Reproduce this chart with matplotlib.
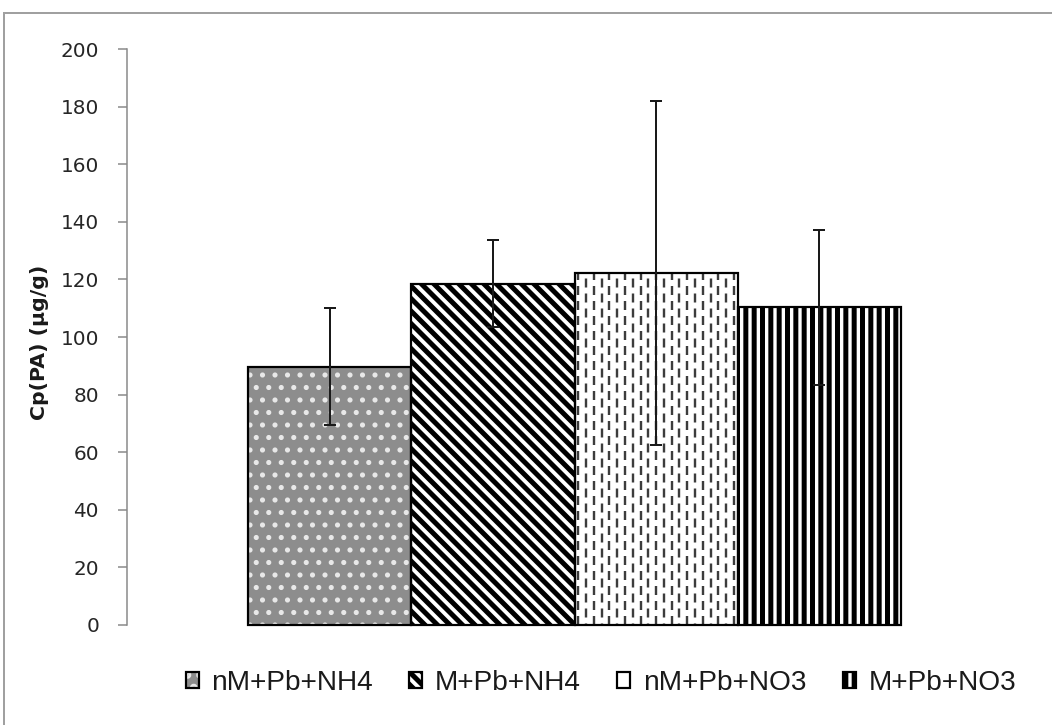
import numpy as np
import matplotlib
matplotlib.use('Agg')
import matplotlib.pyplot as plt
from matplotlib.lines import Line2D
from matplotlib.legend_handler import HandlerTuple

# data
groups = ['nM+Pb+NH4', 'M+Pb+NH4', 'nM+Pb+NO3', 'M+Pb+NO3']
means = [89.7, 118.5, 122.2, 110.3]
errors = [20.2, 15.2, 59.6, 27.0]
yticks = list(range(0, 201, 20))
ylabel = 'Cp(PA) (µg/g)'

DPI = 150
PX = 72 / DPI  # points per pixel

plt.rcParams['font.family'] = ['DejaVu Sans']
plt.rcParams['hatch.linewidth'] = 5.0 * PX
plt.rcParams['lines.scale_dashes'] = False

# fill colour, hatch, hatch colour for each bar
styles = [
    ('#8d8d8d', '..', '#e8e8e8'),
    ('white', '\\\\\\\\', 'black'),
    ('white', None, 'white'),
    ('white', '|||', 'black'),
]


def main():
    fig = plt.figure(figsize=(1052 / DPI, 725 / DPI), dpi=DPI)
    ax = fig.add_axes([127 / 1052, 100 / 725, 895 / 1052, 576 / 725])

    x = np.arange(len(groups))
    w = 1.0
    handles = []
    for i in range(len(groups)):
        fc, hatch, hc = styles[i]
        tex = ax.bar(x[i], means[i], width=w, color=fc, edgecolor=hc,
                     hatch=hatch, linewidth=0, zorder=2)[0]
        if i == 0 and hasattr(tex, 'set_hatch_linewidth'):
            tex.set_hatch_linewidth(2.6 * PX)
        out = ax.bar(x[i], means[i], width=w, fill=False, edgecolor='black',
                     linewidth=2.2 * PX, zorder=3, clip_on=False)[0]
        if i == 2:
            # short staggered vertical dashes
            n = 21
            xs = x[i] - w / 2 + (np.arange(n) + 0.5) * w / n
            for k, off in ((0, 0.0), (1, 7.5 * PX)):
                lc = ax.vlines(xs[k::2], 0, means[i], colors='#3c3c3c',
                               linewidth=2.4 * PX,
                               linestyles=[(off, (9 * PX, 6 * PX))],
                               zorder=2.5)
                lc.set_clip_path(tex)
        handles.append((tex, out))

    ax.errorbar(x, means, yerr=errors, fmt='none', ecolor='#1a1a1a',
                elinewidth=2 * PX, capsize=6 * PX, capthick=2 * PX, zorder=4)

    gap = 121 / 163.25
    ax.set_xlim(x[0] - w / 2 - gap, x[-1] + w / 2 + gap)
    ax.set_ylim(0, 200)
    ax.set_yticks(yticks)
    ax.set_xticks([])
    for s in ('top', 'right', 'bottom'):
        ax.spines[s].set_visible(False)
    ax.spines['left'].set_color('#888888')
    ax.spines['left'].set_linewidth(1.5 * PX)
    ax.tick_params(axis='y', direction='out', length=9 * PX, width=1.5 * PX,
                   color='#888888', pad=19 * PX, labelsize=20 * PX,
                   labelcolor='#262626')

    ax.set_ylabel(ylabel, fontsize=20.5 * PX, fontweight='bold', color='#1a1a1a')
    ax.yaxis.set_label_coords(-0.0983, 0.49)
    ax.yaxis.label.set_verticalalignment('center')

    ax.legend(handles, groups, handler_map={tuple: HandlerTuple(ndivide=1, pad=0)},
              loc='center', bbox_to_anchor=(601 / 1052, 1 - 683 / 725),
              bbox_transform=fig.transFigure, ncol=4, frameon=False,
              prop={'family': 'Liberation Sans', 'size': 28 * PX},
              handlelength=13 / 28, handleheight=13 / 28,
              handletextpad=0.45, columnspacing=1.3, labelcolor='#1a1a1a')

    # outer chart border (top and left visible)
    fig.add_artist(Line2D([4 / 1052, 4 / 1052], [0, 1 - 13 / 725],
                          transform=fig.transFigure, color='#a0a0a0', lw=2 * PX))
    fig.add_artist(Line2D([4 / 1052, 1], [1 - 13 / 725, 1 - 13 / 725],
                          transform=fig.transFigure, color='#a0a0a0', lw=2 * PX))

    fig.savefig('out.png', dpi=DPI)


if __name__ == '__main__':
    main()
